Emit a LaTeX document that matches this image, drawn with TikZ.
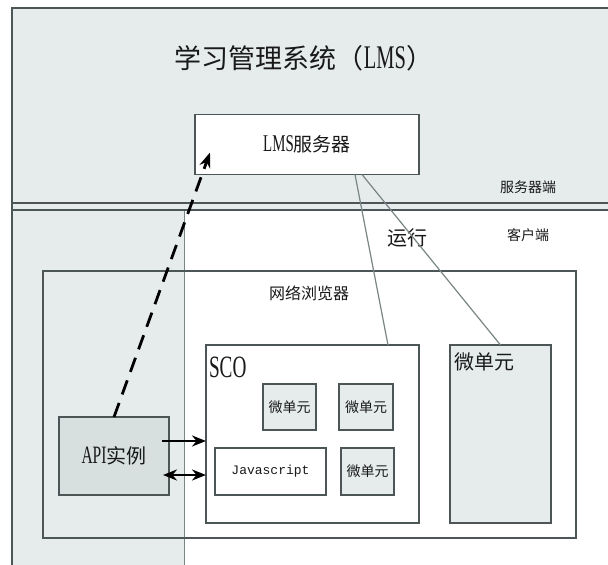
\documentclass[tikz,border=0pt]{standalone}
\usepackage{fontspec}
\setmainfont{Liberation Serif}
\setmonofont{Liberation Mono}
\newfontfamily\cjk{Noto Sans CJK SC}
\newfontfamily\latc[FakeStretch=0.62]{Liberation Serif}
\usetikzlibrary{arrows.meta}
\definecolor{srvgray}{HTML}{E6ECEC}
\definecolor{apigray}{HTML}{D8DFDF}
\definecolor{boxline}{HTML}{4D5656}
\definecolor{thinline}{HTML}{7A8585}
\newcommand\fs[1]{\fontsize{#1}{#1}\selectfont}
\tikzset{
  box/.style={draw=boxline, line width=1.1pt, inner sep=0pt, outer sep=0pt, text=black!90},
  lbl/.style={inner sep=0pt, outer sep=0pt, text=black!90},
  region/.style={draw=boxline, line width=1.1pt},
  runline/.style={draw=thinline, line width=1.2pt},
  arr/.style={black, line width=2.8pt, -{Stealth[length=14pt,width=11pt]}},
  darr/.style={black, line width=2.8pt, {Stealth[length=14pt,width=11pt]}-{Stealth[length=14pt,width=11pt]}},
  dasharr/.style={black, line width=2.8pt, dash pattern=on 15pt off 9pt, -{Stealth[length=15pt,width=11pt]}},
}
\begin{document}
\begin{tikzpicture}[x=1pt,y=-1pt]
\useasboundingbox (0,0) rectangle (608,565);
\fill[white] (0,0) rectangle (608,565);
\clip (0,0) rectangle (608,565);
% server region
\fill[srvgray] (12,8) rectangle (620,210);
\draw[region] (620,8) -- (12,8) -- (12,600);
\draw[region] (12,203) -- (620,203);
\draw[region] (12,210) -- (620,210);
% client left strip
\fill[srvgray] (12,211) rectangle (184,600);
\draw[thinline, line width=0.8pt] (184,211) -- (184,600);
\draw[region] (12,8) -- (12,600);
% labels
\node[lbl] (title) at (304,58) {\cjk\fs{27}学习管理系统（{\latc\fs{33}LMS}）};
\node[lbl] (srvlbl) at (528,187) {\cjk\fs{14}服务器端};
\node[lbl] (clilbl) at (528,235) {\cjk\fs{14}客户端};
\node[lbl] (run) at (407,238) {\cjk\fs{20}运行};
% boxes
\node[box, fill=white, minimum width=224pt, minimum height=60pt] (lms) at (307,144.5)
  {{\latc\fs{24}LMS}{\cjk\fs{19}服务器}};
\node[box, minimum width=533pt, minimum height=267pt] (browser) at (309.5,404.5) {};
\node[lbl] (browserlbl) at (309,293) {\cjk\fs{16}网络浏览器};
\node[box, fill=white, minimum width=213pt, minimum height=178pt] (sco) at (312.5,434) {};
\node[lbl, anchor=west] (scolbl) at (209,367) {\latc\fs{31}SCO};
\node[box, fill=srvgray, minimum width=101pt, minimum height=178pt] (micro) at (500.5,434) {};
\node[lbl, anchor=west] (microlbl) at (454,362) {\cjk\fs{20}微单元};
\node[box, fill=srvgray, minimum width=53pt, minimum height=46pt] (m1) at (289.5,407) {\cjk\fs{14}微单元};
\node[box, fill=srvgray, minimum width=54pt, minimum height=46pt] (m2) at (366,407) {\cjk\fs{14}微单元};
\node[box, fill=srvgray, minimum width=53pt, minimum height=47pt] (m3) at (367.5,471.5) {\cjk\fs{14}微单元};
\node[box, fill=white, minimum width=111pt, minimum height=47pt] (js) at (270.5,471.5) {\ttfamily\fs{13}Javascript};
\node[box, fill=apigray, minimum width=110pt, minimum height=78pt] (api) at (114,456)
  {{\latc\fs{25}API}{\cjk\fs{20}实例}};
% connectors
\coordinate (lmsA) at ([xshift=48pt]lms.south);
\coordinate (lmsB) at ([xshift=55pt]lms.south);
\coordinate (scoTop) at ([xshift=75.5pt]sco.north);
\draw[runline] (lmsA) -- (scoTop);
\draw[runline] (lmsB) -- (micro.north);
\coordinate (tip) at ([xshift=15pt,yshift=22pt]lms.south west);
\draw[dasharr] (api.north) -- (tip);
\coordinate (a1) at ([xshift=-7pt,yshift=15pt]api.east);
\coordinate (a2) at ([xshift=-6pt,yshift=-19pt]api.east);
\draw[arr] (a1) -- (a1 -| sco.west);
\draw[darr] (a2) -- (a2 -| sco.west);
\end{tikzpicture}
\end{document}
